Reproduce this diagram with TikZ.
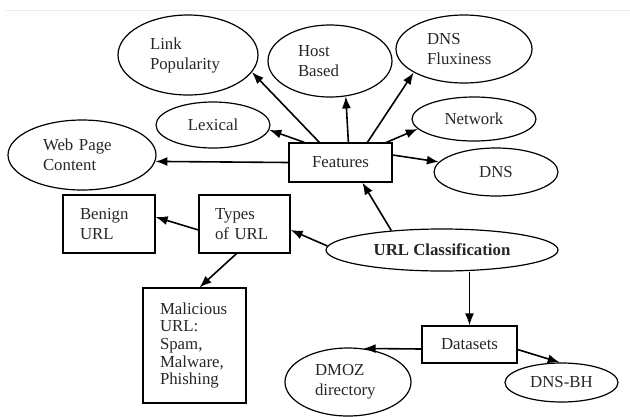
\documentclass[tikz,border=0pt]{standalone}
\usepackage{fontspec}
\setmainfont{Liberation Serif}
\usetikzlibrary{shapes.geometric,arrows.meta,positioning,calc}

\tikzset{
  oval/.style={ellipse, draw, line width=1.2pt, inner sep=0pt, align=left},
  box/.style={rectangle, draw, line width=1.2pt, inner sep=0pt, align=left},
  link/.style={-{Latex[length=12pt,width=9pt]}, line width=1.6pt},
}

\begin{document}
\begin{tikzpicture}[x=1pt, y=-1pt, font=\fontsize{16.8}{20}\selectfont, text=black!85]
    \useasboundingbox (0,0) rectangle (630,416);
    \draw[gray!15, line width=0.6pt] (6,10) -- (630,10);

    % Feature ovals
    \node[oval, minimum width=140, minimum height=80, text width=76] (linkpop) at (188,55) {Link\\Popularity};
    \node[oval, minimum width=124, minimum height=72, text width=64] (host) at (330,61) {Host\\Based};
    \node[oval, minimum width=136, minimum height=68, text width=74] (flux) at (464,49) {DNS\\Fluxiness};
    \node[oval, minimum width=114, minimum height=46] (lex) at (213,125) {Lexical};
    \node[oval, minimum width=124, minimum height=44] (net) at (474,119) {Network};
    \node[oval, minimum width=148, minimum height=70, text width=78] (web) at (82,155) {Web Page\\Content};
    \node[oval, minimum width=124, minimum height=48] (dns) at (496,172) {DNS};
    \node[box, minimum width=103, minimum height=39] (feat) at (340.5,162.5) {Features};

    % Types of URL
    \node[box, minimum width=92, minimum height=58, text width=58] (benign) at (109,224) {Benign\\URL};
    \node[box, minimum width=91, minimum height=58, text width=59] (types) at (244.5,224) {Types\\of URL};
    \node[box, minimum width=103, minimum height=115, text width=69, font=\fontsize{16.8}{17.7}\selectfont] (mal) at (194.5,345.5) {Malicious\\URL:\\Spam,\\Malware,\\Phishing};

    % Root
    \node[oval, minimum width=232, minimum height=42, font=\fontsize{16.8}{20}\selectfont\bfseries] (url) at (442,250) {URL Classification};

    % Datasets
    \node[box, minimum width=95, minimum height=37] (data) at (469.5,344.5) {Datasets};
    \node[oval, minimum width=126, minimum height=68, text width=66] (dmoz) at (348,382) {DMOZ\\directory};
    \node[oval, minimum width=113, minimum height=39] (dnsbh) at (561.5,382.5) {DNS-BH};

    % Connectors
    \draw[link] ([xshift=31pt]feat.north west) -- (linkpop.-15);
    \draw[link] ([xshift=60pt]feat.north west) -- (host.-66);
    \draw[link] ([xshift=79pt]feat.north west) -- (flux.205);
    \draw[link] ([xshift=16pt]feat.north west) -- (lex.-5);
    \draw[link] ([xshift=98pt]feat.north west) -- (net.190);
    \draw[link] ([yshift=7.5pt]feat.east) -- (dns.170);
    \draw[link] (feat.west) -- (web.-5.5);
    \draw[link] (url.159) -- ([xshift=74pt]feat.south west);
    \draw[link] (url.178) -- ([yshift=-6pt]types.east);
    \draw[link] ([yshift=-6pt]types.west) -- ([yshift=7pt]benign.east);
    \draw[link] ([xshift=-8pt]types.south) -- ([xshift=5pt]mal.north);
    \draw[link] (url.south -| data.north) -- (data.north);
    \draw[link] ([yshift=-4.5pt]data.west) -- (dmoz.65);
    \draw[link] ([yshift=-5pt]data.east) -- (dnsbh.95);
\end{tikzpicture}
\end{document}
